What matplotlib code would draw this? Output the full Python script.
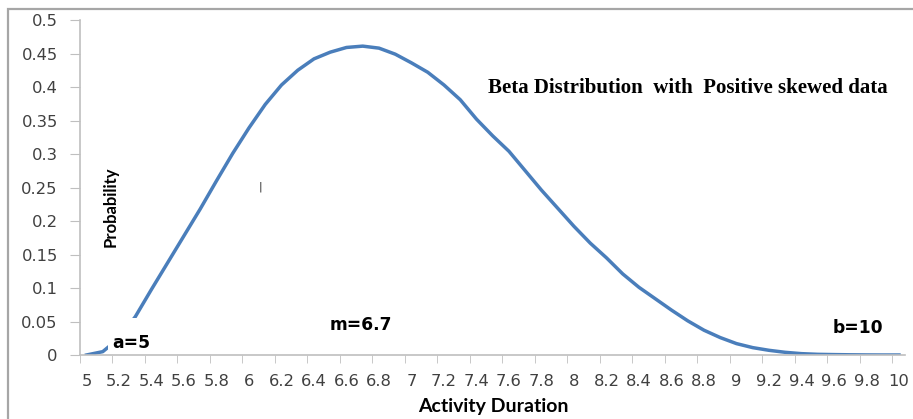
import numpy as np
import matplotlib.pyplot as plt
from matplotlib.patches import Rectangle

# Values
duration = [5.0, 5.1, 5.2, 5.3, 5.4, 5.5, 5.6, 5.7, 5.8, 5.9,
            6.0, 6.1, 6.2, 6.3, 6.4, 6.5, 6.6, 6.7, 6.8, 6.9,
            7.0, 7.1, 7.2, 7.3, 7.4, 7.5, 7.6, 7.7, 7.8, 7.9,
            8.0, 8.1, 8.2, 8.3, 8.4, 8.5, 8.6, 8.7, 8.8, 8.9,
            9.0, 9.1, 9.2, 9.3, 9.4, 9.5, 9.6, 9.7, 9.8, 9.9, 10.0]
probability = [0.000, 0.005, 0.025, 0.057, 0.098, 0.138, 0.178, 0.218, 0.260, 0.301,
               0.339, 0.374, 0.403, 0.425, 0.442, 0.452, 0.459, 0.461, 0.458, 0.449,
               0.436, 0.422, 0.403, 0.381, 0.352, 0.327, 0.304, 0.275, 0.246, 0.219,
               0.192, 0.167, 0.145, 0.121, 0.101, 0.084, 0.067, 0.051, 0.037, 0.026,
               0.017, 0.011, 0.007, 0.004, 0.002, 0.001, 0.0006, 0.0003, 0.0001, 0.0, 0.0]

x_ticks = [5, 5.2, 5.4, 5.6, 5.8, 6, 6.2, 6.4, 6.6, 6.8, 7, 7.2, 7.4, 7.6, 7.8,
           8, 8.2, 8.4, 8.6, 8.8, 9, 9.2, 9.4, 9.6, 9.8, 10]
x_labels = ['5', '5.2', '5.4', '5.6', '5.8', '6', '6.2', '6.4', '6.6', '6.8', '7',
            '7.2', '7.4', '7.6', '7.8', '8', '8.2', '8.4', '8.6', '8.8', '9',
            '9.2', '9.4', '9.6', '9.8', '10']
y_ticks = [0, 0.05, 0.1, 0.15, 0.2, 0.25, 0.3, 0.35, 0.4, 0.45, 0.5]
y_labels = ['0', '0.05', '0.1', '0.15', '0.2', '0.25', '0.3', '0.35', '0.4', '0.45', '0.5']

W, H = 913, 419
fig = plt.figure(figsize=(W / 100, H / 100), dpi=100)
ax = fig.add_axes([80 / W, 64 / H, 825 / W, 335 / H])

# outer chart border (only top and left visible)
fig.add_artist(Rectangle((8 / W, -0.2), 1.2, (H - 9) / H + 0.2, transform=fig.transFigure,
                         fill=False, ec='#a6a6a6', lw=1.6))

ax.plot(duration, probability, color='#4a7ebb', lw=2.5, solid_joinstyle='round', zorder=2)

ax.set_xlim(4.963, 10.037)
ax.set_ylim(0, 0.5)

ax.set_xticks(x_ticks, x_labels)
ax.set_xticks(np.array(x_ticks) - 0.04, minor=True)
ax.tick_params(axis='x', which='major', length=0, pad=14)
ax.tick_params(axis='x', which='minor', length=6, color='#bfbfbf', direction='out')
ax.set_yticks(y_ticks, y_labels)
ax.tick_params(axis='y', length=7, color='#bfbfbf', pad=9)
for lab in ax.get_xticklabels() + ax.get_yticklabels():
    lab.set_fontfamily('DejaVu Sans')
    lab.set_fontsize(11.8)
    lab.set_color('#404040')

for s in ['top', 'right']:
    ax.spines[s].set_visible(False)
for s in ['left', 'bottom']:
    ax.spines[s].set_color('#bfbfbf')
    ax.spines[s].set_linewidth(1.2)
    ax.spines[s].set_zorder(2.5)

# label box hides part of the curve, as in the original
ax.text(5.277, 0.027, ' \na=5', fontsize=12.3, fontweight='bold', ha='center', va='center',
        linespacing=0.55, bbox=dict(boxstyle='square,pad=0.25', fc='white', ec='none'), zorder=2.2)
ax.text(6.691, 0.045, 'm=6.7', fontsize=12.3, fontweight='bold', ha='center', va='center')
ax.text(9.748, 0.040, 'b=10', fontsize=12.3, fontweight='bold', ha='center', va='center')
ax.text(5.148, 0.221, 'Probability', family='Lato', fontsize=12, fontweight='bold',
        rotation=90, ha='center', va='center')
ax.text(6.07, 0.251, '|', fontsize=8, color='#222222', ha='center', va='center')
ax.text(7.472, 0.3985, 'Beta Distribution  with  Positive skewed data', family='Liberation Serif',
        fontsize=15, fontweight='bold', ha='left', va='center')

fig.text(493 / W, (H - 406) / H, 'Activity Duration', family='Lato', fontsize=14,
         fontweight='bold', ha='center', va='center')

fig.savefig('out.png', dpi=100)
